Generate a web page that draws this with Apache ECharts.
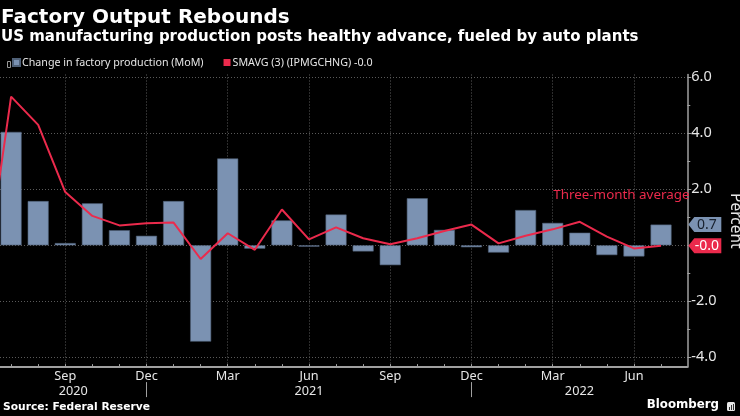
<!DOCTYPE html>
<html>
<head>
<meta charset="utf-8">
<script src="https://cdn.jsdelivr.net/npm/echarts@6/dist/echarts.min.js"></script>
<style>
html,body{margin:0;padding:0;background:#000;}
#c{width:740px;height:416px;}
</style>
</head>
<body>
<div id="c"></div>
<script>
// Months, index 0 = Jul 2020
const categories = ['Jul 2020','Aug 2020','Sep 2020','Oct 2020','Nov 2020','Dec 2020',
  'Jan 2021','Feb 2021','Mar 2021','Apr 2021','May 2021','Jun 2021','Jul 2021','Aug 2021',
  'Sep 2021','Oct 2021','Nov 2021','Dec 2021','Jan 2022','Feb 2022','Mar 2022','Apr 2022',
  'May 2022','Jun 2022','Jul 2022'];
// Change in factory production (MoM), %
const production = [4.05, 1.58, 0.08, 1.5, 0.54, 0.34, 1.58, -3.44, 3.1, -0.12, 0.89, -0.05,
  1.1, -0.22, -0.71, 1.68, 0.55, -0.07, -0.26, 1.26, 0.8, 0.45, -0.35, -0.4, 0.74];
// Three-month average, starting Jun 2020 (index -1)
const smaStartIndex = -1;
const smavg = [-1.45, 5.31, 4.3, 1.9, 1.05, 0.71, 0.79, 0.81, -0.49, 0.43, -0.16, 1.28, 0.21,
  0.64, 0.25, 0.04, 0.25, 0.51, 0.74, 0.07, 0.34, 0.57, 0.84, 0.31, -0.11, -0.02];
const yTickLabels = [-4, -2, 2, 4, 6];
const yMajorTicks = [-4, -2, 0, 2, 4, 6];
const yMinorTicks = [-3, -1, 1, 3, 5];
const quarterMonths = ['Sep', 'Dec', 'Mar', 'Jun'];
const seriesNames = ['Change in factory production (MoM)', 'SMAVG (3) (IPMGCHNG) -0.0'];
const annotation = { text: 'Three-month average', at: [20, 1.8] };

const X_MIN = -0.41, X_MAX = 24.97;
const Y_MIN = -4.35, Y_MAX = 6.1;
const BAR_COLOR = '#7b92b2';
const LINE_COLOR = '#eb2a4c';
const GRID_COLOR = '#5a5a5a';
const AXIS_COLOR = '#a0a0a0';
const TXT = '#e6e6e6';
const FONT = 'Noto Sans';
const BOLD_FONT = 'DejaVu Sans';

const monthIdx = categories.map((c, i) => i);
const quarterIdx = monthIdx.filter(i => quarterMonths.includes(categories[i].slice(0, 3)));
const decIdx = monthIdx.filter(i => categories[i].startsWith('Dec'));
const yearBounds = [X_MIN].concat(decIdx).concat([X_MAX]);
const yearLabelPos = [];
for (let k = 0; k < yearBounds.length - 1; k++) yearLabelPos.push((yearBounds[k] + yearBounds[k + 1]) / 2);
function yearAt(v) {
  let k = 0;
  while (k < decIdx.length && v > decIdx[k]) k++;
  const i = k < decIdx.length ? decIdx[k] : categories.length - 1;
  return categories[i].slice(4);
}

const barData = production.map((v, i) => [i, v]);
const lineData = smavg.map((v, i) => [smaStartIndex + i, v]);
const lastBar = production[production.length - 1];
const lastSma = smavg[smavg.length - 1];

const tagPath = 'path://M0,7 L6,0 L33,0 L33,14 L6,14 Z';

const chart = echarts.init(document.getElementById('c'));
chart.setOption({
  backgroundColor: '#000',
  animation: false,
  textStyle: { fontFamily: FONT },
  title: [
    { text: 'Factory Output Rebounds', left: 1, top: 8, padding: 0,
      textStyle: { color: '#fff', fontSize: 20, fontWeight: 'bold', fontFamily: BOLD_FONT } },
    { text: 'US manufacturing production posts healthy advance, fueled by auto plants', left: 1, top: 30, padding: 0,
      textStyle: { color: '#fff', fontSize: 15, fontWeight: 'bold', fontFamily: BOLD_FONT } },
    { text: 'Source: Federal Reserve', left: 3, top: 402, padding: 0,
      textStyle: { color: '#fff', fontSize: 10.7, fontWeight: 'bold', fontFamily: BOLD_FONT } },
    { text: 'Bloomberg', right: 21, top: 399, padding: 0,
      textStyle: { color: '#fff', fontSize: 11.8, fontWeight: 'bold', fontFamily: BOLD_FONT } }
  ],
  graphic: [
    { type: 'group', right: 5, top: 402, children: [
      { type: 'rect', shape: { x: 0, y: 0, width: 8, height: 9, r: 1.5 }, style: { fill: '#e8e8e8' } },
      { type: 'rect', shape: { x: 2, y: 5, width: 1, height: 3 }, style: { fill: '#333' } },
      { type: 'rect', shape: { x: 4, y: 3, width: 1, height: 5 }, style: { fill: '#333' } },
      { type: 'rect', shape: { x: 6, y: 2, width: 1, height: 6 }, style: { fill: '#333' } }
    ] },
    { type: 'rect', left: 5, top: 59, shape: { width: 3, height: 6 }, style: { fill: 'none', stroke: '#999', lineWidth: 1 } }
  ],
  legend: {
    left: 12, top: 57, padding: 0,
    icon: 'rect', itemWidth: 7, itemHeight: 7, itemGap: 20,
    textStyle: { color: TXT, fontSize: 10.7, fontFamily: FONT, padding: [0, 0, 0, -3] },
    data: seriesNames
  },
  grid: { left: 0, right: 52.7, top: 74.5, bottom: 48.9, outerBoundsMode: 'none', containLabel: false },
  xAxis: [
    { type: 'value', min: X_MIN, max: X_MAX, position: 'bottom',
      axisLine: { show: true, onZero: false, lineStyle: { color: AXIS_COLOR, width: 2 } },
      axisTick: { show: true, inside: true, length: 3, customValues: monthIdx, lineStyle: { color: AXIS_COLOR } },
      axisLabel: { show: true, customValues: quarterIdx, color: TXT, fontSize: 12.7, margin: 3,
        formatter: v => categories[Math.round(v)].slice(0, 3) },
      splitLine: { show: false } },
    { type: 'value', min: X_MIN, max: X_MAX, position: 'bottom',
      axisLine: { show: false, onZero: false }, axisTick: { show: false, customValues: quarterIdx },
      axisLabel: { show: false },
      splitLine: { show: true, lineStyle: { color: GRID_COLOR, type: [1, 2], width: 1 } } },
    { type: 'value', min: X_MIN, max: X_MAX, position: 'bottom', offset: 15,
      axisLine: { show: false, onZero: false },
      axisTick: { show: true, length: 15, customValues: decIdx, lineStyle: { color: AXIS_COLOR } },
      axisLabel: { show: true, customValues: yearLabelPos, color: TXT, fontSize: 12.7, margin: 3,
        formatter: v => yearAt(v) },
      splitLine: { show: false } }
  ],
  yAxis: [
    { type: 'value', min: Y_MIN, max: Y_MAX, position: 'right',
      name: 'Percent', nameLocation: 'middle', nameRotate: -90, nameGap: 35,
      nameTextStyle: { color: TXT, fontSize: 15.5, fontFamily: FONT },
      axisLine: { show: true, onZero: false, lineStyle: { color: AXIS_COLOR, width: 1.5 } },
      axisTick: { show: true, length: 4, customValues: yMajorTicks, lineStyle: { color: AXIS_COLOR } },
      axisLabel: { show: true, customValues: yTickLabels, color: TXT, fontSize: 14.5, margin: 4,
        formatter: v => v.toFixed(1) },
      splitLine: { show: true, lineStyle: { color: GRID_COLOR, type: [1, 2], width: 1 } } },
    { type: 'value', min: Y_MIN, max: Y_MAX, position: 'right',
      axisLine: { show: false, onZero: false },
      axisTick: { show: true, length: 3, customValues: yMinorTicks, lineStyle: { color: AXIS_COLOR } },
      axisLabel: { show: false }, splitLine: { show: false } }
  ],
  series: [
    { name: seriesNames[0], type: 'bar', xAxisIndex: 0, yAxisIndex: 0,
      data: barData, barWidth: 21,
      itemStyle: { color: BAR_COLOR, borderColor: '#4f6077', borderWidth: 0.6 },
      markPoint: {
        silent: true,
        data: [{ coord: [X_MAX, lastBar], value: lastBar }],
        symbol: tagPath, symbolSize: [33, 15], symbolOffset: [17.5, 0],
        itemStyle: { color: BAR_COLOR },
        label: { show: true, position: 'inside', offset: [2, 0], color: '#17202d', fontSize: 14,
          formatter: p => p.value.toFixed(1) }
      } },
    { name: seriesNames[1], type: 'line', xAxisIndex: 0, yAxisIndex: 0,
      data: lineData, showSymbol: false, symbol: 'none',
      lineStyle: { color: LINE_COLOR, width: 2 }, itemStyle: { color: LINE_COLOR },
      markPoint: {
        silent: true,
        data: [
          { coord: [X_MAX, lastSma], value: lastSma,
            symbol: tagPath, symbolSize: [33, 15], symbolOffset: [17.5, 0],
            itemStyle: { color: LINE_COLOR },
            label: { show: true, position: 'inside', offset: [2, 0], color: '#fff', fontSize: 14,
              formatter: p => p.value.toFixed(1) } },
          { coord: annotation.at, value: 0, symbol: 'rect', symbolSize: 1,
            itemStyle: { color: 'rgba(0,0,0,0)' },
            label: { show: true, position: 'right', distance: 0, color: LINE_COLOR, fontSize: 13.4,
              formatter: annotation.text } }
        ]
      } }
  ]
});
</script>
</body>
</html>
